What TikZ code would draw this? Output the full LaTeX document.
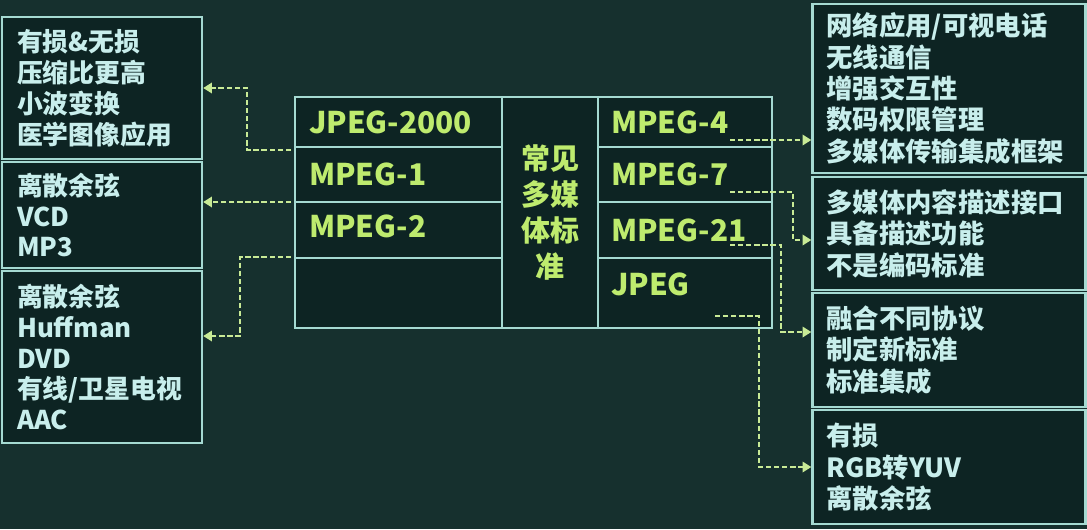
\documentclass[tikz,border=0pt]{standalone}
\usepackage{fontspec}
\setmainfont{Noto Sans CJK SC}
\usepackage{tikz}
\usetikzlibrary{arrows.meta}
\usetikzlibrary{positioning}
\definecolor{bgteal}{RGB}{22,48,46}
\definecolor{boxdark}{RGB}{13,36,35}
\definecolor{lineteal}{RGB}{165,218,210}
\definecolor{infotext}{RGB}{200,238,236}
\definecolor{stdgreen}{RGB}{190,235,110}
\definecolor{linkgreen}{RGB}{200,234,150}

\begin{document}
\begin{tikzpicture}[x=0.02cm,y=-0.02cm,
    frame/.style={draw=lineteal,line width=1.4pt,fill=boxdark},
    lbox/.style={frame,minimum width=4cm,text width=3.4cm,inner xsep=0.3cm,
      align=left,text=infotext,font=\bfseries\fontsize{14.7}{17.6}\selectfont},
    rbox/.style={frame,minimum width=5.36cm,text width=4.9cm,inner xsep=0.28cm,
      align=left,text=infotext,font=\bfseries\fontsize{15}{17.9}\selectfont},
    cell/.style={frame,inner sep=0pt},
    stdname/.style={text=stdgreen,inner sep=0pt,font=\bfseries\fontsize{17}{20}\selectfont},
    link/.style={draw=linkgreen,line width=1pt,dash pattern=on 3pt off 1.6pt,
      -{Triangle[length=5pt,width=6pt]}}]

   \useasboundingbox (0,0) rectangle (1087,529);
   \fill[bgteal] (0,0) rectangle (1087,529);

    % 左侧说明框
    \node[lbox,minimum height=2.84cm] (L1) at (102,88) {有损\&无损\\压缩比更高\\小波变换\\医学图像应用};
    \node[lbox,minimum height=2.12cm] (L2) at (102,215) {离散余弦\\VCD\\MP3};
    \node[lbox,minimum height=3.44cm] (L3) at (102,357) {离散余弦\\Huffman\\DVD\\有线/卫星电视\\AAC};

    % 右侧说明框
    \node[rbox,minimum height=3.38cm] (R1) at (949,88.5) {网络应用/可视电话\\无线通信\\增强交互性\\数码权限管理\\多媒体传输集成框架};
    \node[rbox,minimum height=2.26cm] (R2) at (949,233.5) {多媒体内容描述接口\\具备描述功能\\不是编码标准};
    \node[rbox,minimum height=2.28cm] (R3) at (949,350) {融合不同协议\\制定新标准\\标准集成};
    \node[rbox,minimum height=2.28cm] (R4) at (949,467) {有损\\RGB转YUV\\离散余弦};

    % 中间表格
    \node[cell,minimum width=4.14cm,minimum height=1.0cm] (a1) at (398.5,122) {};
    \node[cell,minimum width=4.14cm,minimum height=1.1cm] (a2) at (398.5,174.5) {};
    \node[cell,minimum width=4.14cm,minimum height=1.12cm] (a3) at (398.5,230) {};
    \node[cell,minimum width=4.14cm,minimum height=1.4cm] (a4) at (398.5,293) {};
    \node[cell,minimum width=1.92cm,minimum height=4.62cm,text=stdgreen,align=center,
      font=\bfseries\fontsize{16.5}{20.5}\selectfont] (mid) at (550,212.5) {常见\\多媒\\体标\\准};
    \node[cell,minimum width=3.48cm,minimum height=1.0cm] (b1) at (685,122) {};
    \node[cell,minimum width=3.48cm,minimum height=1.1cm] (b2) at (685,174.5) {};
    \node[cell,minimum width=3.48cm,minimum height=1.12cm] (b3) at (685,230) {};
    \node[cell,minimum width=3.48cm,minimum height=1.4cm] (b4) at (685,293) {};

    % 标准名称
    \node[stdname,anchor=west,right=0.3cm of a1.west] (jp2k) {JPEG-2000};
    \node[stdname,anchor=west,right=0.3cm of a2.west] (mp1) {MPEG-1};
    \node[stdname,anchor=west,right=0.3cm of a3.west,yshift=0.08cm] (mp2) {MPEG-2};
    \node[stdname,anchor=west,right=0.28cm of b1.west] (mp4) {MPEG-4};
    \node[stdname,anchor=west,right=0.28cm of b2.west] (mp7) {MPEG-7};
    \node[stdname,anchor=west,right=0.28cm of b3.west] (mp21) {MPEG-21};
    \node[stdname,anchor=west,right=0.28cm of b4.west,yshift=0.18cm] (jpg) {JPEG};

    % 连线起点
    \path
     (291,150) coordinate (p1)
     (291,202) coordinate (p2)
     (291,257) coordinate (p3)
     (730,140) coordinate (q1)
     (730,192) coordinate (q2)
     (730,245) coordinate (q3)
     (715,316) coordinate (q4)
     ;

    % 虚线箭头
    \draw[link] (p1) -- ++(-44,0) |- (L1.east);
    \draw[link] (p2) -- (p2 -| L2.east);
    \draw[link] (p3) -- ++(-51,0) |- ([yshift=0.42cm]L3.east);
    \draw[link] (q1) -- (q1 -| R1.west);
    \draw[link] (q2) -- ++(63,0) |- ([yshift=-0.13cm]R2.west);
    \draw[link] (q3) -- ++(51,0) |- ([yshift=0.36cm]R3.west);
    \draw[link] (q4) -- ++(44,0) |- (R4.west);

\end{tikzpicture}
\end{document}
